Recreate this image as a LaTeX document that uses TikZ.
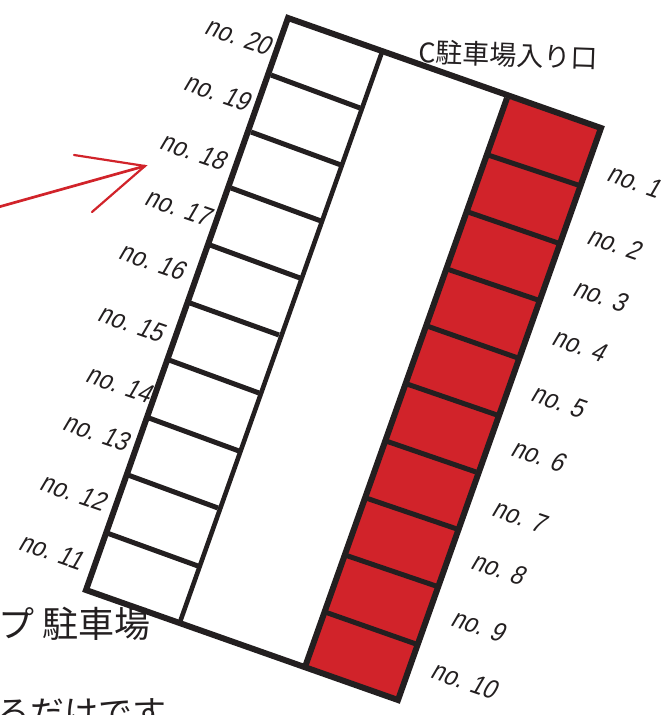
\documentclass[tikz,border=0pt]{standalone}
\usepackage{fontspec}
\setmainfont{Liberation Sans}
\newfontfamily\cjk{Noto Sans CJK JP}
\newfontfamily\slfont{Liberation Sans}[FakeSlant=0.2,FakeStretch=0.86]
\definecolor{ink}{RGB}{35,31,32}
\definecolor{lotred}{RGB}{209,35,42}
\tikzset{
  outline/.style={draw=ink,line width=6pt,line join=miter},
  edge/.style={draw=ink,line width=4.6pt},
  divider/.style={draw=ink,line width=5pt},
  nolabel/.style={rotate=-19,inner sep=0pt,font=\slfont\fontsize{27}{27}\selectfont,text=ink},
  cjklabel/.style={inner sep=0pt,text=ink},
  redline/.style={draw=lotred,line width=2.2pt,line cap=round},
  redshaft/.style={draw=lotred,line width=2.7pt,line cap=round},
}
\begin{document}
\begin{tikzpicture}[x=1pt,y=-1pt]
\useasboundingbox (0,0) rectangle (672,715);
\clip (0,0) rectangle (672,715);
% red area
\coordinate (rtl) at (507,98);
\coordinate (rtr) at (601,128);
\coordinate (rbr) at (398,700);
\coordinate (rbl) at (305,667);
\coordinate (ltl) at (288,18);
\coordinate (ltr) at (382,52);
\coordinate (lbl) at (86,590);
\coordinate (lbr) at (180,622);
\fill[lotred] (rtl) -- (rtr) -- (rbr) -- (rbl) -- cycle;
% left dividers
\foreach \ax/\ay/\bx/\by in {271/75/360/108,251/132/341/165,231/188/321/221,210/245/300/278,190/303/279/335,169/360/259/393,149/418/239/451,128/475/218/508,107/533/198/566}
  \draw[divider] (\ax,\ay) -- (\bx,\by);
% right dividers
\foreach \ax/\ay/\bx/\by in {488/155/581/186,468/212/558/243,447/269/538/300,427/326/518/358,407/384/497/415,386/441/476/472,366/498/457/529,345/555/436/586,325/612/416/644}
  \draw[divider] (\ax,\ay) -- (\bx,\by);
\draw[edge] (ltr) -- (lbr);
\draw[outline] (rtl) -- (rbl);
\draw[outline] (ltl) -- (rtr) -- (rbr) -- (lbl) -- cycle;
% labels
\foreach \n/\x/\y in {1/634/181,2/614/243,3/600/295,4/579/345,5/558/401,6/538/455,7/519/516,8/498/568,9/478/625,10/464/680,11/51/551,12/73/492,13/96/432,14/119/384,15/131/323,16/152/261,17/178/207,18/193/151,19/217/92,20/238/36}
  \node[nolabel] (no\n) at (\x,\y) {no. \n};
\node[cjklabel,rotate=-2,font=\cjk\fontsize{27}{27}\selectfont,anchor=center] (entry) at (508,55) {C駐車場入り口};
\node[cjklabel,font=\cjk\fontsize{36}{36}\selectfont,anchor=east] (lot) at (151,624) {プ 駐車場};
\node[cjklabel,font=\cjk\fontsize{34}{34}\selectfont,anchor=east] (tail) at (167,713) {るだけです};
% arrow
\coordinate (tip) at (145,166);
\coordinate (tailend) at (-5,208);
\coordinate (barbA) at (74,155);
\coordinate (barbB) at (92,212);
\draw[redshaft] (tailend) -- (tip);
\draw[redline] (barbA) -- (tip) -- (barbB);
\end{tikzpicture}
\end{document}
